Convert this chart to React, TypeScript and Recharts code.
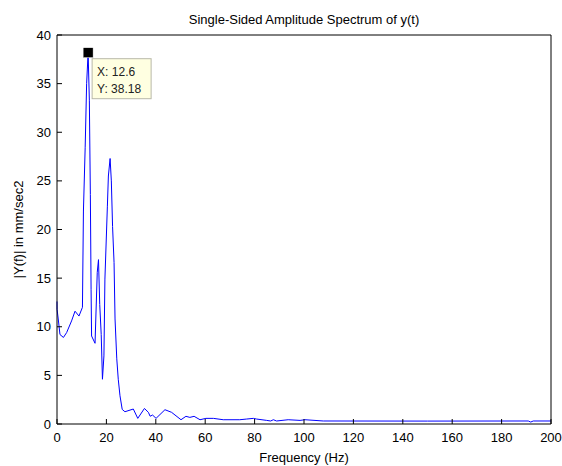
import React from 'react'
import {
  LineChart,
  Line,
  XAxis,
  YAxis,
  ReferenceDot,
  Label,
} from 'recharts'

// frequency (Hz) and |Y(f)| values
const freqs = [
  0, 0.02, 0.5, 1.2, 2.6, 3.9, 5.9, 7.3, 8.9, 10.3,
  10.7, 11.4, 12.0, 12.6, 13.1, 13.5, 13.8, 14.0, 15.4, 16.3,
  16.8, 17.3, 17.9, 18.4, 19.0, 19.4, 20.4, 20.8, 21.5, 22.0,
  22.5, 23.1, 23.5, 24.2, 24.8, 25.5, 26.4, 27.5, 30.9, 32.7,
  35.4, 37.0, 37.7, 38.7, 40.1, 43.7, 46.4, 50.2, 52.2, 53.8,
  55.5, 57.9, 60.3, 63.3, 67.3, 74.0, 76.8, 79.5, 80.8, 84.9,
  86.5, 87.6, 88.9, 93.6, 98.4, 100.4, 107.8, 150, 190.8, 191.8,
  192.8, 200,
]
const amps = [
  12.6, 11.8, 10.8, 9.2, 8.9, 9.4, 10.6, 11.6, 11.1, 12.0,
  21.9, 28.4, 35.0, 38.18, 33.3, 23.6, 13.8, 9.05, 8.3, 15.6,
  16.9, 12.3, 9.2, 4.6, 7.0, 14.9, 22.4, 25.5, 27.3, 25.0,
  20.3, 16.6, 10.8, 6.7, 4.6, 2.9, 1.5, 1.26, 1.54, 0.58,
  1.6, 1.2, 0.8, 0.92, 0.58, 1.47, 1.2, 0.44, 0.79, 0.68,
  0.79, 0.44, 0.58, 0.58, 0.44, 0.44, 0.51, 0.58, 0.51, 0.37,
  0.31, 0.44, 0.31, 0.44, 0.37, 0.44, 0.31, 0.3, 0.31, 0.2,
  0.31, 0.31,
]

const xTicks = [0, 20, 40, 60, 80, 100, 120, 140, 160, 180, 200]
const yTicks = [0, 5, 10, 15, 20, 25, 30, 35, 40]

const peakX = 12.6
const peakY = 38.18

const data = freqs.map((f, i) => ({ f, y: amps[i] }))

const tickStyle = { fontSize: 13, fill: '#000' }

const DataTip = (props: any) => {
  const { cx, cy } = props
  if (cx == null || cy == null) return null
  return (
    <g>
      <rect x={cx + 4} y={cy + 6} width={59} height={40} fill="#ffffe1" stroke="#b8b8a8" strokeWidth={1} />
      <text x={cx + 9} y={cy + 23} fontSize={12} fill="#222">{`X: ${peakX}`}</text>
      <text x={cx + 9} y={cy + 40} fontSize={12} fill="#222">{`Y: ${peakY}`}</text>
      <rect x={cx - 5} y={cy - 5} width={10} height={10} fill="#000" stroke="#fff" strokeWidth={0.5} />
    </g>
  )
}

export default function App() {
  // body margin replaced by padding so the "200" label isn't cut at the body edge
  return (
    <div
      style={{
        width: 562,
        height: 466,
        padding: 8,
        boxSizing: 'border-box',
        fontFamily: '"Liberation Sans", Arial, sans-serif',
        background: '#fff',
      }}
    >
      <style>{'body { margin: 0; } .recharts-surface { overflow: visible; }'}</style>
      <LineChart width={554} height={458} data={data} margin={{ top: 0, right: 0, bottom: 0, left: 0 }}>
        <XAxis
          xAxisId="top"
          orientation="top"
          dataKey="f"
          type="number"
          domain={[0, 200]}
          ticks={xTicks}
          height={27}
          tick={false}
          tickSize={-5}
          stroke="#000"
        >
          <Label
            value="Single-Sided Amplitude Spectrum of y(t)"
            position="insideTop"
            offset={7}
            style={{ fontSize: 13, fill: '#000' }}
          />
        </XAxis>
        <XAxis
          dataKey="f"
          type="number"
          domain={[0, 200]}
          ticks={xTicks}
          interval={0}
          height={42}
          tickSize={-5}
          tickMargin={14}
          tick={tickStyle}
          stroke="#000"
        >
          <Label value="Frequency (Hz)" position="insideBottom" offset={4} style={{ fontSize: 13, fill: '#000' }} />
        </XAxis>
        <YAxis
          type="number"
          domain={[0, 40]}
          ticks={yTicks}
          interval={0}
          width={49}
          tickSize={-5}
          tickMargin={11}
          tick={tickStyle}
          stroke="#000"
        >
          <Label
            value="|Y(f)| in mm/sec2"
            angle={-90}
            position="insideLeft"
            offset={10}
            style={{ fontSize: 13, fill: '#000', textAnchor: 'middle' }}
          />
        </YAxis>
        <YAxis
          yAxisId="right"
          orientation="right"
          type="number"
          domain={[0, 40]}
          ticks={yTicks}
          width={11}
          tick={false}
          tickSize={-5}
          stroke="#000"
        />
        <Line
          type="linear"
          dataKey="y"
          stroke="#0000ff"
          strokeWidth={1}
          dot={false}
          activeDot={false}
          isAnimationActive={false}
        />
        <ReferenceDot x={peakX} y={peakY} r={5} shape={<DataTip />} />
      </LineChart>
    </div>
  )
}
